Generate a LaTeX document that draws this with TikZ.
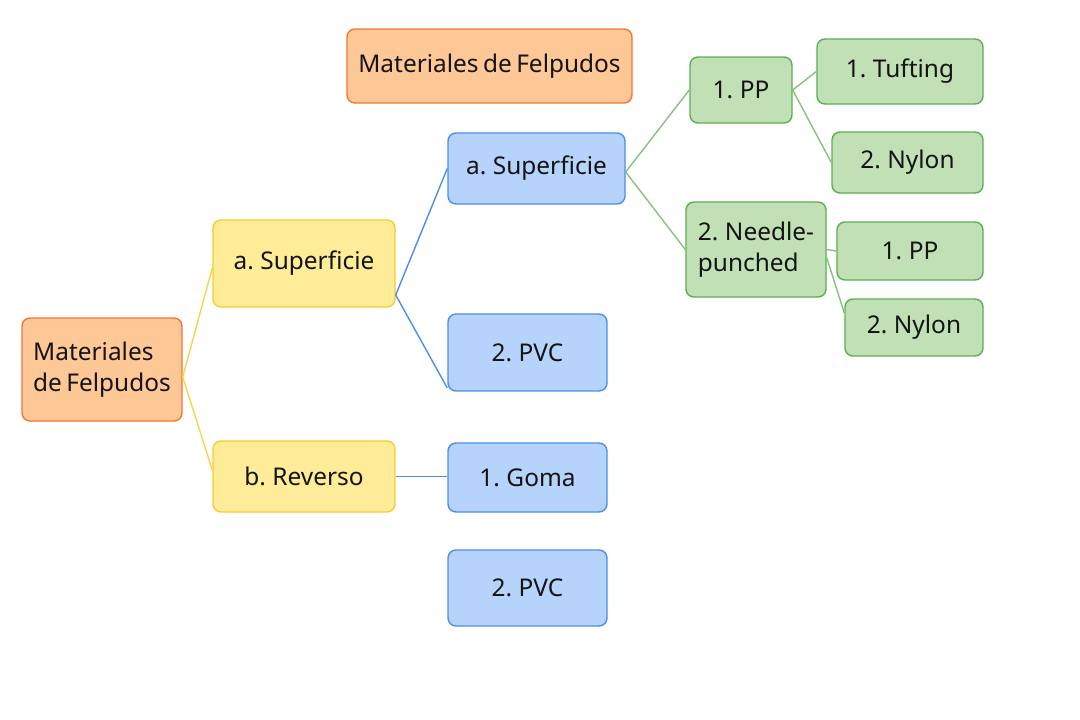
\documentclass[tikz,border=0pt]{standalone}
\usepackage{fontspec}
\setmainfont[WordSpace=0.7]{Noto Sans}
\usetikzlibrary{positioning}

\definecolor{orangefill}{HTML}{FEC796}
\definecolor{orangeline}{HTML}{F27636}
\definecolor{yellowfill}{HTML}{FFEC99}
\definecolor{yellowline}{HTML}{F8CB2E}
\definecolor{bluefill}{HTML}{B5D3FB}
\definecolor{blueline}{HTML}{4C8FE6}
\definecolor{greenfill}{HTML}{C2E0B6}
\definecolor{greenline}{HTML}{5CAF50}
\definecolor{inkcol}{HTML}{141414}

\tikzset{
  box/.style={draw,rounded corners=0.16cm,line width=0.8pt,inner sep=0pt,
    align=left,text=inkcol,font=\fontsize{13.9}{17.6}\selectfont},
  boxsize/.style 2 args={minimum width=#1*0.02cm,minimum height=#2*0.02cm},
  orangebox/.style={box,fill=orangefill,draw=orangeline},
  yellowbox/.style={box,fill=yellowfill,draw=yellowline},
  bluebox/.style={box,fill=bluefill,draw=blueline},
  greenbox/.style={box,fill=greenfill,draw=greenline}
}

\begin{document}
\begin{tikzpicture}[x=0.02cm,y=-0.02cm,line width=0.8pt]

\useasboundingbox (0,0) rectangle (1080,720);

\node[orangebox,boxsize={285}{74}]   (title) at (489.5,66)   {Materiales de Felpudos};

\node[orangebox,boxsize={160}{103}]  (root)  at (102,369.5)  {Materiales\\de Felpudos};

\node[yellowbox,boxsize={182}{87}]   (supA)  at (304,263.5)  {a. Superficie};
\node[yellowbox,boxsize={182}{71}]   (rev)   at (304,476.5)  {b. Reverso};

\node[bluebox,boxsize={177}{71}]     (supB)  at (536.5,168.5) {a. Superficie};
\node[bluebox,boxsize={159}{77}]     (pvcA)  at (527.5,352.5) {2. PVC};
\node[bluebox,boxsize={159}{69}]     (goma)  at (527.5,477.5) {1. Goma};
\node[bluebox,boxsize={159}{76}]     (pvcB)  at (527.5,588)   {2. PVC};

\node[greenbox,boxsize={102}{66}]    (pp)     at (741,90)     {1. PP};
\node[greenbox,boxsize={140}{95}]    (needle) at (756,249.5)  {2. Needle-\\punched};

\node[greenbox,boxsize={166}{65}]    (tuft)   at (900,71.5)   {1. Tufting};
\node[greenbox,boxsize={151}{61}]    (nylonA) at (907.5,162.5) {2. Nylon};
\node[greenbox,boxsize={146}{58}]    (ppB)    at (910,251)    {1. PP};
\node[greenbox,boxsize={138}{57}]    (nylonB) at (914,327.5)  {2. Nylon};

	\path[draw=yellowline!85!white]
		([yshift=-0.15cm]root.east) edge ([yshift=-0.09cm]supA.west)
		([yshift=-0.15cm]root.east) edge ([yshift=0.13cm]rev.west);

	\path[draw=blueline]
		([yshift=-0.63cm]supA.east) edge (supB.west)
		([yshift=-0.63cm]supA.east) edge ([yshift=-0.71cm]pvcA.west)
		(rev.east) edge ([yshift=0.02cm]goma.west);

	\path[draw=greenline!75!white]
		([yshift=-0.07cm]supB.east) edge (pp.west)
		([yshift=-0.07cm]supB.east) edge (needle.west)
		(pp.east) edge (tuft.west)
		(pp.east) edge (nylonA.west)
		(needle.east) edge (ppB.west)
		([yshift=-0.16cm]needle.east) edge ([yshift=0.29cm]nylonB.west);

\end{tikzpicture}
\end{document}
